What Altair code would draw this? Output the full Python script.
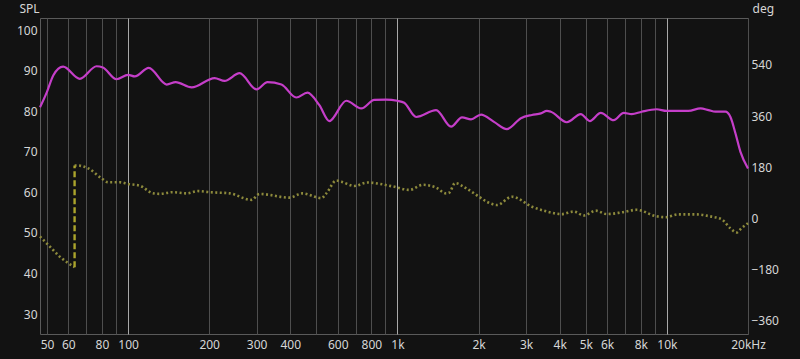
import altair as alt
import pandas as pd

# SPL magnitude (dB) vs frequency (Hz)
spl_freq = [47.1, 50, 52.8, 57.4, 66.2, 76.4, 80.6, 90.6, 100, 105.9, 119.3, 139.1, 150.2,
            172.2, 209.5, 228.1, 259.3, 299.7, 329.2, 370.9, 420.9, 463.1, 512.9, 558.5,
            645.6, 733.8, 820, 908.1, 997.4, 1059, 1173, 1391, 1581, 1736, 1875, 2042,
            2281, 2549, 2871, 3155, 3406, 3585, 3710, 4251, 4790, 5172, 5681, 6347, 6913,
            7401, 8060, 9159, 9975, 12023, 13327, 14268, 15137, 16483, 17214, 17963,
            18750, 20000]
spl_db = [81.0, 84.8, 88.9, 91.0, 88.0, 91.1, 90.8, 87.9, 89.0, 88.6, 90.7, 86.6, 87.2,
          85.9, 88.2, 87.5, 89.4, 85.4, 87.2, 86.6, 83.4, 84.6, 81.5, 77.6,
          82.6, 80.7, 82.8, 82.9, 82.6, 82.1, 78.6, 80.3, 76.2, 78.5, 78.0, 79.2,
          77.4, 75.6, 78.3, 79.1, 79.5, 80.1, 79.9, 77.3, 79.3, 77.6, 79.6, 77.8, 79.6,
          79.3, 79.9, 80.5, 80.1, 80.1, 80.7, 80.3, 79.9, 79.9, 78.6, 74.6,
          70.0, 65.9]

# Phase (deg) vs frequency (Hz); wraps from -180 to +180 near 63 Hz
phase_freq = [47.1, 51.3, 55.8, 63.3, 63.3, 64.8, 71.1, 79.7, 84.3, 93.2, 100, 110.5, 123.8,
              131.0, 146.4, 165.0, 181.2, 200.7, 238.1, 287.2, 307.5, 397.2, 443.6, 521.8,
              544.5, 592.9, 618.8, 691.8, 772.5, 964, 1105, 1245, 1391, 1515, 1554, 1636,
              1797, 2007, 2149, 2341, 2659, 3155, 3585, 4074, 4511, 4914, 5445, 5981, 6796,
              7725, 9081, 9890, 11051, 12776, 14640, 15946, 17214, 18121, 18913, 20000]
phase_deg = [-64, -100, -135, -172, 186, 186, 176, 141, 127, 127, 121, 115, 88,
             86, 92, 88, 96, 92, 88, 65, 86, 73, 88, 71,
             88, 133, 129, 114, 126, 112, 100, 118, 108, 88, 90, 124,
             106, 76, 58, 47, 76, 41, 24, 15, 24, 10, 27, 15, 21,
             30, 8, 4, 14, 14, 6, -3, -35, -50, -35, -17]
wrap_index = 4  # first point after the wrap

x_grid = [50, 60, 70, 80, 90, 100, 200, 300, 400, 500, 600, 700, 800, 900,
          1000, 2000, 3000, 4000, 5000, 6000, 7000, 8000, 9000, 10000, 20000]
x_unlabeled = [70, 90, 500, 700, 900, 7000, 9000]
spl_grid = list(range(26, 103, 2))
deg_ticks = [-360, -180, 0, 180, 360, 540]

spl_df = pd.DataFrame({"f": spl_freq, "spl": spl_db})
ph_df = pd.DataFrame({"f": phase_freq, "deg": phase_deg,
                      "seg": [0 if i < wrap_index else 1 for i in range(len(phase_freq))],
                      "i": list(range(len(phase_freq)))})
wrap_df = ph_df.iloc[[wrap_index - 1, wrap_index]]

FONT = "Noto Sans"
LABEL = "#d6d6d6"

x_enc = alt.X("f:Q",
              scale=alt.Scale(type="log", domain=[47.1, 20000], nice=False),
              axis=alt.Axis(values=x_grid, title=None, domain=False, ticks=False,
                            labelFlush=False, labelOverlap=False, labelPadding=5,
                            labelExpr=("datum.value == 20000 ? '20kHz' : "
                                       "(indexof(" + str(x_unlabeled) + ", datum.value) >= 0 ? '' : "
                                       "(datum.value >= 1000 ? (datum.value/1000) + 'k' : '' + datum.value))"),
                            gridColor={"condition": {"test": "datum.value == 100 || datum.value == 1000 || datum.value == 10000",
                                                     "value": "#a8a8a8"},
                                       "value": "#4e4e4e"},
                            gridWidth=1))

spl_line = alt.Chart(spl_df).mark_line(color="#c53ec9", strokeWidth=2.2, interpolate="monotone").encode(
    x=x_enc,
    y=alt.Y("spl:Q",
            scale=alt.Scale(domain=[25.1, 103], nice=False, zero=False),
            axis=alt.Axis(values=spl_grid, domain=False, ticks=False, labelPadding=3,
                          labelExpr="datum.value % 10 == 0 ? '' + datum.value : ''",
                          gridColor={"condition": {"test": "datum.value % 10 == 0", "value": "#6a6a6a"},
                                     "value": "#333333"},
                          title="SPL", titleAngle=0, titleX=-21, titleY=-15,
                          titleAlign="left", titleBaseline="top",
                          titleFontWeight="normal"))
)

deg_axis = alt.Axis(orient="right", values=deg_ticks, grid=False, domain=False,
                    ticks=False, labelPadding=3,
                    title="deg", titleAngle=0, titleX=4, titleY=-15,
                    titleAlign="left", titleBaseline="top",
                    titleFontWeight="normal")
deg_scale = alt.Scale(domain=[-407, 705], nice=False, zero=False)

ph_line = alt.Chart(ph_df).mark_line(color="#8d8a3c", strokeWidth=2.6, strokeDash=[2, 2.5],
                                     interpolate="monotone").encode(
    x=alt.X("f:Q"),
    y=alt.Y("deg:Q", scale=deg_scale, axis=deg_axis),
    detail="seg:N",
    order="i:Q",
)

wrap_line = alt.Chart(wrap_df).mark_line(color="#aba42c", strokeWidth=2.4, strokeDash=[6, 3]).encode(
    x=alt.X("f:Q"),
    y=alt.Y("deg:Q", scale=deg_scale, axis=deg_axis),
    order="i:Q",
)

phase_group = alt.layer(ph_line, wrap_line)

chart = alt.layer(phase_group, spl_line).resolve_scale(y="independent").properties(
    width=708, height=316,
    background="#121212",
    padding={"left": 40, "top": 18, "right": 52, "bottom": 25},
    autosize=alt.AutoSizeParams(type="none"),
).configure_view(
    stroke="#5a5a5a", strokeWidth=1, fill="#121212"
).configure_axis(
    labelFont=FONT, titleFont=FONT, labelFontSize=12, titleFontSize=12,
    labelColor=LABEL, titleColor=LABEL,
)

chart.save("out.html", embed_options={"renderer": "svg", "actions": False})
